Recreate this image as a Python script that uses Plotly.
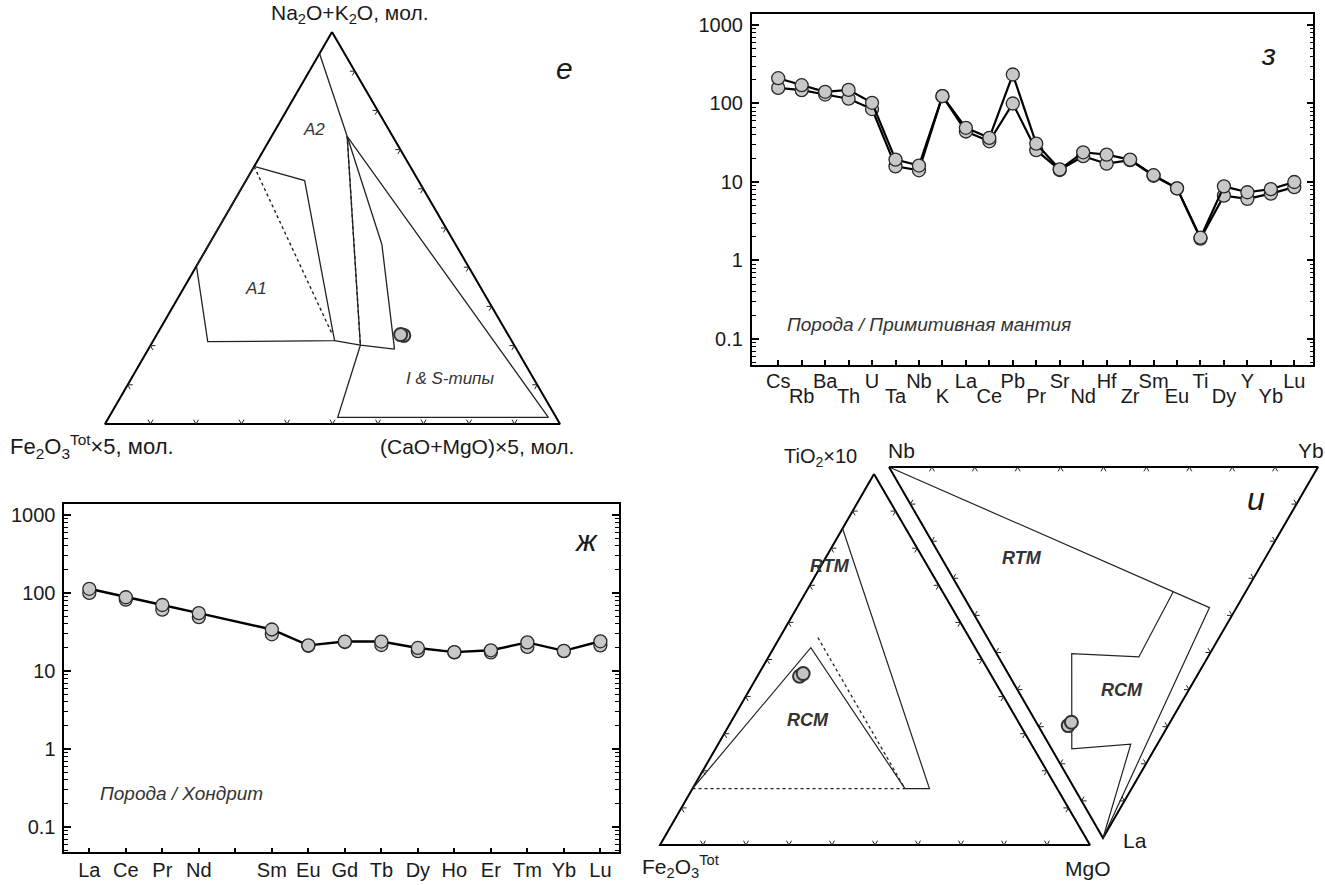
import plotly.graph_objects as go

# ---------------- data ----------------
pm_elements = ["Cs", "Rb", "Ba", "Th", "U", "Ta", "Nb", "K", "La", "Ce", "Pb", "Pr",
               "Sr", "Nd", "Hf", "Zr", "Sm", "Eu", "Ti", "Dy", "Y", "Yb", "Lu"]
pm_sample1 = [210, 171, 141, 149, 102, 19.3, 16.2, 124, 49, 36.5, 234, 30.8,
              14.5, 23.9, 22.3, 19.3, 12.2, 8.3, 1.95, 8.8, 7.4, 8.1, 10.0]
pm_sample2 = [158, 148, 130, 115, 85, 15.8, 14.1, 124, 44, 33, 100, 25.4,
              14.2, 21.3, 17.1, 19.0, 12.0, 8.3, 1.9, 6.7, 6.1, 7.1, 8.6]

ree_elements = ["La", "Ce", "Pr", "Nd", "Pm", "Sm", "Eu", "Gd", "Tb", "Dy", "Ho", "Er", "Tm", "Yb", "Lu"]
ree_unlabeled = ["Pm"]
ree_sample1 = [113, 88, 70, 55, None, 34, 21.3, 23.8, 23.8, 19.7, 17.4, 18.4, 23.2, 18.1, 24.0]
ree_sample2 = [100, 82, 61, 49, None, 29.5, 21.0, 23.5, 21.5, 17.9, 17.3, 17.3, 20.3, 17.9, 21.3]

log_ticks = [0.1, 1, 10, 100, 1000]
log_tick_text = ["0.1", "1", "10", "100", "1000"]
tern_ticks = [0.1, 0.2, 0.3, 0.4, 0.5, 0.6, 0.7, 0.8, 0.9]

# ternary "e": (Na2O+K2O, Fe2O3*5, (CaO+MgO)*5)
e_A2_line = [(0.945, 0.055, 0.0), (0.734, 0.100, 0.166), (0.458, 0.162, 0.380), (0.191, 0.268, 0.541)]
e_IS_field = [(0.201, 0.338, 0.461), (0.017, 0.480, 0.503), (0.017, 0.017, 0.966), (0.734, 0.100, 0.166)]
e_A1_field = [(0.657, 0.343, 0.0), (0.621, 0.250, 0.129), (0.2125, 0.389, 0.3985),
              (0.210, 0.669, 0.121), (0.403, 0.597, 0.0)]
e_base_line = [(0.2125, 0.389, 0.3985), (0.201, 0.338, 0.461), (0.191, 0.268, 0.541)]
e_dot1 = [(0.657, 0.343, 0.0), (0.227, 0.386, 0.387)]
e_dot2 = [(0.734, 0.100, 0.166), (0.201, 0.338, 0.461)]
e_samples = [(0.226, 0.230, 0.544), (0.228, 0.236, 0.536)]

# ternary "u" left: (TiO2*10, Fe2O3, MgO)
u1_RCM = [(0.152, 0.848, 0.0), (0.532, 0.382, 0.086), (0.152, 0.354, 0.494)]
u1_dot_base = [(0.152, 0.848, 0.0), (0.152, 0.354, 0.494)]
u1_dot_side = [(0.559, 0.352, 0.089), (0.152, 0.354, 0.494)]
u1_RTM = [(0.152, 0.354, 0.494), (0.152, 0.297, 0.551), (0.853, 0.147, 0.0)]
u1_samples = [(0.455, 0.447, 0.098), (0.462, 0.435, 0.103)]

# ternary "u" right: (Nb, Yb, La)
u2_top_line = [(1.0, 0.0, 0.0), (0.063, 0.558, 0.379), (0.0, 0.0, 1.0)]
u2_RCM = [(0.169, 0.495, 0.336), (0.161, 0.327, 0.512), (0.322, 0.175, 0.503),
          (0.193, 0.047, 0.760), (0.062, 0.191, 0.747), (0.0, 0.0, 1.0)]
u2_samples = [(0.233, 0.070, 0.697), (0.230, 0.082, 0.688)]

# ---------------- layout params ----------------
W, H = 1325, 885
FONT = "Liberation Sans, Arial, sans-serif"
T1 = [(332, 32), (105, 424), (560, 424)]          # top, left, right
T2 = [(874, 474), (660, 845), (1090, 845)]        # top, left, right
T3 = [(889, 467), (1318, 467), (1103, 838)]       # Nb, Yb, La


def proj(comp, V):
    s = sum(comp)
    x = sum(c * v[0] for c, v in zip(comp, V)) / s
    y = sum(c * v[1] for c, v in zip(comp, V)) / s
    return x, y


def path(comps, V, close=False):
    pts = [proj(c, V) for c in comps]
    if close:
        pts.append(pts[0])
    return [p[0] for p in pts], [p[1] for p in pts]


def tick_segments(V, edge, fracs, L=5.0):
    i, j = edge
    k = 3 - i - j
    xs, ys = [], []
    for t in fracs:
        px = (1 - t) * V[i][0] + t * V[j][0]
        py = (1 - t) * V[i][1] + t * V[j][1]
        for a in (i, j):
            dx, dy = V[k][0] - V[a][0], V[k][1] - V[a][1]
            n = (dx * dx + dy * dy) ** 0.5
            xs += [px, px + L * dx / n, None]
            ys += [py, py + L * dy / n, None]
    return xs, ys


fig = go.Figure()
MK = dict(size=13, color="#c8c8c8", line=dict(color="#2a2a2a", width=1.3))

# ---------------- spider (з) ----------------
fig.add_trace(go.Scatter(x=list(range(len(pm_elements))), y=pm_sample2, mode="lines+markers",
                         xaxis="x", yaxis="y", line=dict(color="black", width=2.2), marker=MK,
                         showlegend=False, hoverinfo="skip"))
fig.add_trace(go.Scatter(x=list(range(len(pm_elements))), y=pm_sample1, mode="lines+markers",
                         xaxis="x4", yaxis="y", line=dict(color="black", width=2.2), marker=MK,
                         showlegend=False, hoverinfo="skip"))

# ---------------- REE (ж) ----------------
fig.add_trace(go.Scatter(x=list(range(len(ree_elements))), y=ree_sample2, mode="markers",
                         xaxis="x2", yaxis="y2", marker=MK, showlegend=False, hoverinfo="skip"))
fig.add_trace(go.Scatter(x=list(range(len(ree_elements))), y=ree_sample1, mode="lines+markers",
                         connectgaps=True, xaxis="x2", yaxis="y2",
                         line=dict(color="black", width=2.4), marker=MK,
                         showlegend=False, hoverinfo="skip"))


# ---------------- ternaries (page-pixel overlay axis) ----------------
def line_trace(xs, ys, width=1.2, dash="solid", color="#222"):
    fig.add_trace(go.Scatter(x=xs, y=ys, mode="lines", xaxis="x3", yaxis="y3",
                             line=dict(color=color, width=width, dash=dash),
                             showlegend=False, hoverinfo="skip"))


corner = [(1, 0, 0), (0, 1, 0), (0, 0, 1)]
for V in (T1, T2, T3):
    xs, ys = path(corner, V, close=True)
    line_trace(xs, ys, width=2.0, color="black")

tx, ty = [], []
for V, edges in ((T1, [((1, 2), tern_ticks), ((2, 0), tern_ticks), ((1, 0), tern_ticks[:2])]),
                 (T2, [((1, 2), tern_ticks), ((2, 0), tern_ticks), ((1, 0), tern_ticks)]),
                 (T3, [((0, 1), tern_ticks), ((1, 2), tern_ticks), ((0, 2), tern_ticks)])):
    for e, fr in edges:
        a, b = tick_segments(V, e, fr)
        tx += a
        ty += b
line_trace(tx, ty, width=1.0, color="#222")

for comps, cl in ((e_A2_line, False), (e_IS_field, True), (e_A1_field, True), (e_base_line, False)):
    xs, ys = path(comps, T1, close=cl)
    line_trace(xs, ys, width=1.3)
for comps in (e_dot1, e_dot2):
    xs, ys = path(comps, T1)
    line_trace(xs, ys, width=1.4, dash="dot")

xs, ys = path(u1_RCM, T2)
line_trace(xs, ys, width=1.2)
xs, ys = path(u1_RTM, T2)
line_trace(xs, ys, width=1.2)
for comps in (u1_dot_base, u1_dot_side):
    xs, ys = path(comps, T2)
    line_trace(xs, ys, width=1.3, dash="dot")

xs, ys = path(u2_top_line, T3)
line_trace(xs, ys, width=1.2)
xs, ys = path(u2_RCM, T3)
line_trace(xs, ys, width=1.2)

for comps, V in ((e_samples, T1), (u1_samples, T2), (u2_samples, T3)):
    pts = [proj(c, V) for c in comps]
    fig.add_trace(go.Scatter(x=[p[0] for p in pts], y=[p[1] for p in pts], mode="markers",
                             xaxis="x3", yaxis="y3",
                             marker=dict(size=13, color="#c4c4c4", line=dict(color="#333", width=2)),
                             showlegend=False, hoverinfo="skip"))

# ---------------- annotations ----------------
ann = []


def txt(x, y, s, size=18, xa="center", ya="middle", italic=False, bold=False, color="#1a1a1a", ref="3"):
    ann.append(dict(x=x, y=y, xref="x" + ref, yref="y" + ref, text=s, showarrow=False,
                    xanchor=xa, yanchor=ya,
                    font=dict(family=FONT, size=size, color=color,
                              style="italic" if italic else "normal",
                              weight="bold" if bold else "normal")))


txt(350, 14, "Na<sub>2</sub>O+K<sub>2</sub>O, мол.", size=21)
txt(8, 446, "Fe<sub>2</sub>O<sub>3</sub><sup>Tot</sup>×5, мол.", size=22, xa="left")
txt(576, 446, "(CaO+MgO)×5, мол.", size=21, xa="right")
txt(564, 68, "е", size=30, italic=True)
txt(314, 129, "A2", size=17, italic=True, color="#333")
txt(256, 288, "A1", size=17, italic=True, color="#333")
txt(450, 378, "I &amp; S-типы", size=17, italic=True, color="#333")

txt(859, 457, "TiO<sub>2</sub>×10", size=20, xa="right")
txt(901, 450, "Nb", size=21)
txt(1311, 450, "Yb", size=21)
txt(1135, 840, "La", size=21)
txt(640, 866, "Fe<sub>2</sub>O<sub>3</sub><sup>Tot</sup>", size=21, xa="left")
txt(1088, 868, "MgO", size=21)
txt(1256, 499, "и", size=32, italic=True)
txt(830, 566, "RTM", size=18, italic=True, bold=True, color="#333")
txt(808, 720, "RCM", size=18, italic=True, bold=True, color="#333")
txt(1022, 558, "RTM", size=18, italic=True, bold=True, color="#333")
txt(1122, 690, "RCM", size=18, italic=True, bold=True, color="#333")

txt(0.3, -0.81, "Порода / Примитивная мантия", size=19, xa="left", italic=True, color="#333", ref="")
txt(20.9, 2.626, "з", size=30, italic=True, ref="")
txt(0.25, -0.573, "Порода / Хондрит", size=19, xa="left", italic=True, color="#333", ref="2")
txt(13.6, 2.675, "ж", size=30, italic=True, ref="2")

minor_vals = [m * 10 ** d for d in range(-2, 4) for m in range(2, 10)]
TF = dict(family=FONT, size=20, color="#1a1a1a")


def yax(domain, anchor):
    return dict(type="log", domain=domain, anchor=anchor, range=[-1.325, 3.14],
                tickvals=log_ticks, ticktext=log_tick_text,
                ticks="inside", ticklen=7, tickwidth=1.5, tickcolor="black",
                minor=dict(tickvals=minor_vals, ticks="inside", ticklen=4, tickwidth=1, tickcolor="black",
                           showgrid=False),
                showline=True, linewidth=1.6, linecolor="black", mirror="ticks",
                showgrid=False, zeroline=False, ticklabelstandoff=3, tickfont=TF)


even = list(range(0, len(pm_elements), 2))
odd = list(range(1, len(pm_elements), 2))
ree_lab_idx = [i for i, e in enumerate(ree_elements) if e not in ree_unlabeled]
ree_nolab_idx = [i for i, e in enumerate(ree_elements) if e in ree_unlabeled]

fig.update_layout(
    width=W, height=H, autosize=False,
    margin=dict(l=0, r=0, t=0, b=0, pad=0),
    paper_bgcolor="white", plot_bgcolor="rgba(0,0,0,0)",
    annotations=ann,
    xaxis=dict(domain=[751.7 / W, 1313.3 / W], range=[-1.13, 22.81], anchor="y",
               tickvals=even, ticktext=[pm_elements[i] for i in even],
               ticks="inside", ticklen=5, tickwidth=1.5, tickcolor="black",
               showline=True, linewidth=1.6, linecolor="black", mirror=True,
               showgrid=False, zeroline=False, ticklabelstandoff=-2, tickfont=TF),
    xaxis4=dict(overlaying="x", range=[-1.13, 22.81], anchor="y", side="bottom",
                tickvals=odd, ticktext=[pm_elements[i] for i in odd],
                ticks="inside", ticklen=5, tickwidth=1.5, tickcolor="black",
                showline=False, showgrid=False, zeroline=False, ticklabelstandoff=17,
                tickfont=TF),
    yaxis=yax([1 - 364.5 / H, 1 - 14 / H], "x"),
    xaxis2=dict(domain=[64.3 / W, 619 / W], range=[-0.685, 14.51], anchor="y2",
                tickvals=ree_lab_idx, ticktext=[ree_elements[i] for i in ree_lab_idx],
                ticks="inside", ticklen=5, tickwidth=1.5, tickcolor="black",
                minor=dict(tickvals=ree_nolab_idx, ticks="inside", ticklen=5, tickwidth=1.5,
                           tickcolor="black", showgrid=False),
                showline=True, linewidth=1.6, linecolor="black", mirror=True,
                showgrid=False, zeroline=False, ticklabelstandoff=-1, tickfont=TF),
    yaxis2=yax([1 - 852.3 / H, 1 - 504 / H], "x2"),
    xaxis3=dict(domain=[0, 1], range=[0, W], anchor="y3", visible=False, fixedrange=True),
    yaxis3=dict(domain=[0, 1], range=[H, 0], anchor="x3", visible=False, fixedrange=True),
)

fig.write_html("out.html", config={"displayModeBar": False},
               post_script="document.body.style.margin='0px';document.body.style.padding='0px';"
                           "document.body.style.overflow='hidden';")
